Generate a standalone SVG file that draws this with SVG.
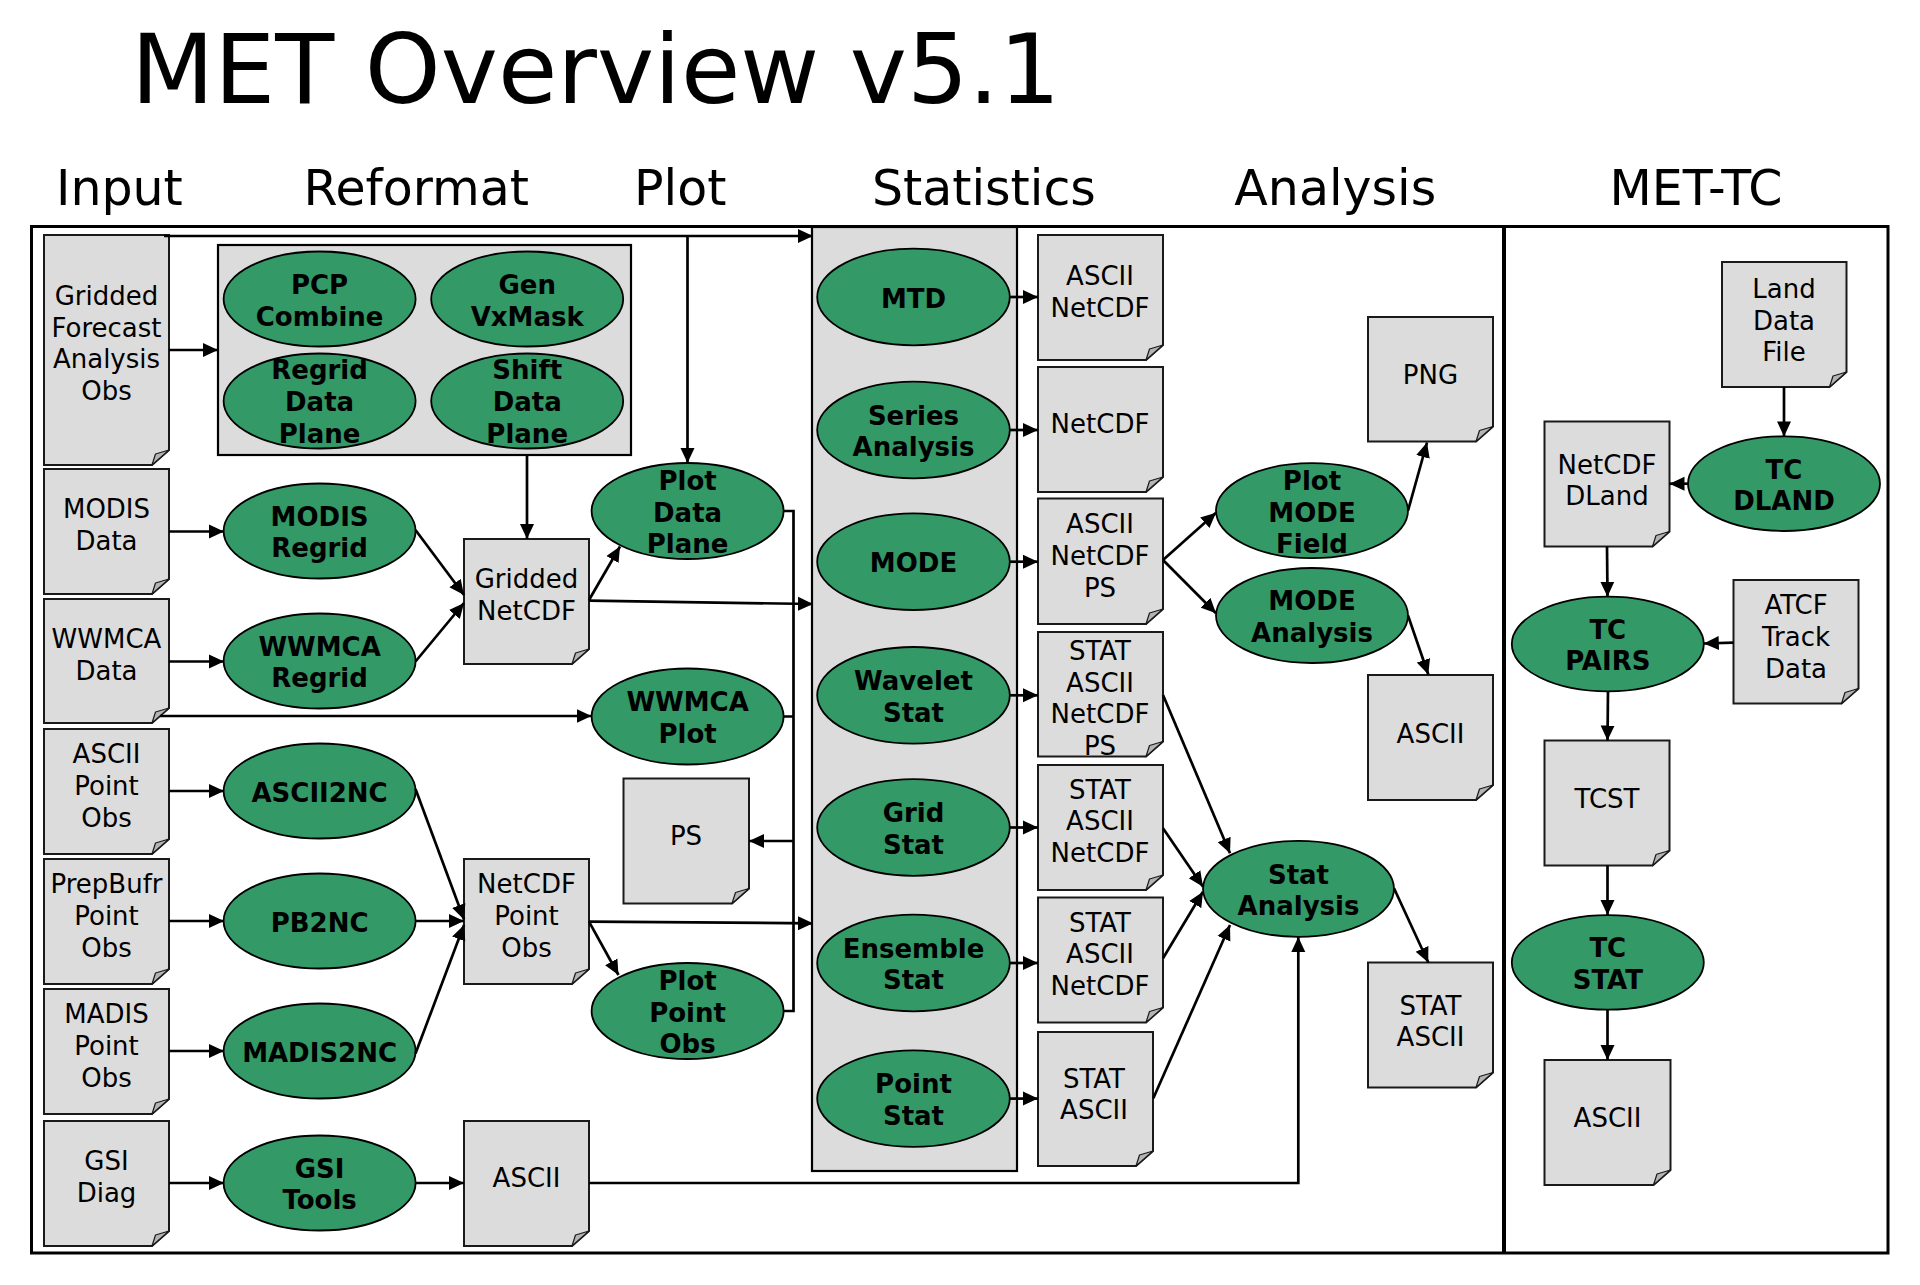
<svg xmlns="http://www.w3.org/2000/svg" width="1920" height="1285" viewBox="0 0 1920 1285">
<defs>
<style>
.doc{fill:#dcdcdc;stroke:#1a1a1a;stroke-width:2}
.fold{fill:#b4b4b4;stroke:#1a1a1a;stroke-width:1.2;stroke-linejoin:round}
.tool{fill:#339966;stroke:#000;stroke-width:1.8}
.box{fill:#dcdcdc;stroke:#000;stroke-width:2.2}
text{font-family:"DejaVu Sans",Verdana,sans-serif;fill:#000}
.t{font-size:26px;text-anchor:middle}
.b{font-weight:bold}
.hdr{font-size:49px;text-anchor:middle}
.c{stroke:#000;stroke-width:2.7;fill:none;marker-end:url(#ah)}
.n{stroke:#000;stroke-width:2.7;fill:none}
</style>
<marker id="ah" markerUnits="userSpaceOnUse" markerWidth="16" markerHeight="15" refX="15" refY="7.5" orient="auto"><path d="M0,0.5 L15,7.5 L0,14.5 Z" fill="#000"/></marker>
</defs>
<rect width="1920" height="1285" fill="#fff"/>
<text x="131" y="103" font-size="96.5">MET Overview v5.1</text>
<g id="headers">
<text class="hdr" x="119.4" y="205">Input</text>
<text class="hdr" x="416.3" y="205">Reformat</text>
<text class="hdr" x="680.2" y="205">Plot</text>
<text class="hdr" x="983.9" y="205">Statistics</text>
<text class="hdr" x="1335.3" y="205">Analysis</text>
<text class="hdr" x="1696" y="205">MET-TC</text>
</g>
<g id="frame">
<rect x="31.5" y="226.5" width="1856.5" height="1026.5" fill="none" stroke="#000" stroke-width="3"/>
<line x1="1504" y1="226.5" x2="1504" y2="1253" stroke="#000" stroke-width="4"/>
</g>
<g id="reformat-box"><rect class="box" x="218" y="245" width="413" height="210"/></g>
<g id="statistics-box"><rect class="box" x="812" y="227" width="205" height="944"/></g>

<g id="in-gridded"><path class="doc" d="M44 235H169V450L152 465H44Z"/><path class="fold" d="M152 465L155.5 454L169 450Z"/>
<text class="t" x="106.5" y="305">Gridded</text><text class="t" x="106.5" y="336.7">Forecast</text><text class="t" x="106.5" y="368.3">Analysis</text><text class="t" x="106.5" y="400">Obs</text></g>
<g id="in-modis"><path class="doc" d="M44 469H169V579L152 594H44Z"/><path class="fold" d="M152 594L155.5 583L169 579Z"/>
<text class="t" x="106.5" y="517.7">MODIS</text><text class="t" x="106.5" y="549.5">Data</text></g>
<g id="in-wwmca"><path class="doc" d="M44 599H169V708L152 723H44Z"/><path class="fold" d="M152 723L155.5 712L169 708Z"/>
<text class="t" x="106.5" y="647.7">WWMCA</text><text class="t" x="106.5" y="679.5">Data</text></g>
<g id="in-ascii"><path class="doc" d="M44 729H169V839L152 854H44Z"/><path class="fold" d="M152 854L155.5 843L169 839Z"/>
<text class="t" x="106.5" y="762.5">ASCII</text><text class="t" x="106.5" y="794.5">Point</text><text class="t" x="106.5" y="826.5">Obs</text></g>
<g id="in-prepbufr"><path class="doc" d="M44 859H169V969L152 984H44Z"/><path class="fold" d="M152 984L155.5 973L169 969Z"/>
<text class="t" x="106.5" y="893">PrepBufr</text><text class="t" x="106.5" y="925">Point</text><text class="t" x="106.5" y="957">Obs</text></g>
<g id="in-madis"><path class="doc" d="M44 989H169V1099L152 1114H44Z"/><path class="fold" d="M152 1114L155.5 1103L169 1099Z"/>
<text class="t" x="106.5" y="1022.5">MADIS</text><text class="t" x="106.5" y="1054.5">Point</text><text class="t" x="106.5" y="1086.5">Obs</text></g>
<g id="in-gsi"><path class="doc" d="M44 1121H169V1231L152 1246H44Z"/><path class="fold" d="M152 1246L155.5 1235L169 1231Z"/>
<text class="t" x="106.5" y="1169.5">GSI</text><text class="t" x="106.5" y="1201.5">Diag</text></g>

<g id="pcp-combine"><ellipse class="tool" cx="319.6" cy="299" rx="96" ry="47.5"/><text class="t b" x="319.6" y="294">PCP</text><text class="t b" x="319.6" y="325.7">Combine</text></g>
<g id="gen-vxmask"><ellipse class="tool" cx="527.2" cy="299" rx="96" ry="47.5"/><text class="t b" x="527.2" y="294">Gen</text><text class="t b" x="527.2" y="325.7">VxMask</text></g>
<g id="regrid-data-plane"><ellipse class="tool" cx="319.6" cy="401" rx="96" ry="47.5"/><text class="t b" x="319.6" y="379.3">Regrid</text><text class="t b" x="319.6" y="411">Data</text><text class="t b" x="319.6" y="442.7">Plane</text></g>
<g id="shift-data-plane"><ellipse class="tool" cx="527.2" cy="401" rx="96" ry="47.5"/><text class="t b" x="527.2" y="379.3">Shift</text><text class="t b" x="527.2" y="411">Data</text><text class="t b" x="527.2" y="442.7">Plane</text></g>
<g id="modis-regrid"><ellipse class="tool" cx="319.6" cy="531" rx="96" ry="47.5"/><text class="t b" x="319.6" y="525.5">MODIS</text><text class="t b" x="319.6" y="557.2">Regrid</text></g>
<g id="wwmca-regrid"><ellipse class="tool" cx="319.6" cy="661" rx="96" ry="47.5"/><text class="t b" x="319.6" y="655.5">WWMCA</text><text class="t b" x="319.6" y="687.2">Regrid</text></g>
<g id="ascii2nc"><ellipse class="tool" cx="319.6" cy="791" rx="96" ry="47.5"/><text class="t b" x="319.6" y="801.5">ASCII2NC</text></g>
<g id="pb2nc"><ellipse class="tool" cx="319.6" cy="921" rx="96" ry="47.5"/><text class="t b" x="319.6" y="931.5">PB2NC</text></g>
<g id="madis2nc"><ellipse class="tool" cx="319.6" cy="1051" rx="96" ry="47.5"/><text class="t b" x="319.6" y="1061.5">MADIS2NC</text></g>
<g id="gsi-tools"><ellipse class="tool" cx="319.6" cy="1183" rx="96" ry="47.5"/><text class="t b" x="319.6" y="1177.5">GSI</text><text class="t b" x="319.6" y="1209.2">Tools</text></g>

<g id="gridded-netcdf"><path class="doc" d="M464 539H589V649L572 664H464Z"/><path class="fold" d="M572 664L575.5 653L589 649Z"/>
<text class="t" x="526.5" y="588.3">Gridded</text><text class="t" x="526.5" y="620">NetCDF</text></g>
<g id="netcdf-point-obs"><path class="doc" d="M464 859H589V969L572 984H464Z"/><path class="fold" d="M572 984L575.5 973L589 969Z"/>
<text class="t" x="526.5" y="893">NetCDF</text><text class="t" x="526.5" y="925">Point</text><text class="t" x="526.5" y="957">Obs</text></g>
<g id="gsi-ascii"><path class="doc" d="M464 1121H589V1231L572 1246H464Z"/><path class="fold" d="M572 1246L575.5 1235L589 1231Z"/>
<text class="t" x="526.5" y="1186.5">ASCII</text></g>

<g id="plot-data-plane"><ellipse class="tool" cx="687.6" cy="511" rx="96" ry="48"/><text class="t b" x="687.6" y="489.8">Plot</text><text class="t b" x="687.6" y="521.5">Data</text><text class="t b" x="687.6" y="553.2">Plane</text></g>
<g id="wwmca-plot"><ellipse class="tool" cx="687.6" cy="716.5" rx="96" ry="48"/><text class="t b" x="687.6" y="711">WWMCA</text><text class="t b" x="687.6" y="742.7">Plot</text></g>
<g id="ps"><path class="doc" d="M623.5 778.5H749V888.5L732 903.5H623.5Z"/><path class="fold" d="M732 903.5L735.5 892.5L749 888.5Z"/>
<text class="t" x="686" y="845">PS</text></g>
<g id="plot-point-obs"><ellipse class="tool" cx="687.6" cy="1011" rx="96" ry="48"/><text class="t b" x="687.6" y="989.8">Plot</text><text class="t b" x="687.6" y="1021.5">Point</text><text class="t b" x="687.6" y="1053.2">Obs</text></g>

<g id="mtd"><ellipse class="tool" cx="913.5" cy="297" rx="96.3" ry="48.3"/><text class="t b" x="913.5" y="307.5">MTD</text></g>
<g id="series-analysis"><ellipse class="tool" cx="913.5" cy="430" rx="96.3" ry="48.3"/><text class="t b" x="913.5" y="424.5">Series</text><text class="t b" x="913.5" y="456.2">Analysis</text></g>
<g id="mode"><ellipse class="tool" cx="913.5" cy="561.7" rx="96.3" ry="48.3"/><text class="t b" x="913.5" y="572.2">MODE</text></g>
<g id="wavelet-stat"><ellipse class="tool" cx="913.5" cy="695.3" rx="96.3" ry="48.3"/><text class="t b" x="913.5" y="690">Wavelet</text><text class="t b" x="913.5" y="721.7">Stat</text></g>
<g id="grid-stat"><ellipse class="tool" cx="913.5" cy="827.5" rx="96.3" ry="48.3"/><text class="t b" x="913.5" y="822">Grid</text><text class="t b" x="913.5" y="853.7">Stat</text></g>
<g id="ensemble-stat"><ellipse class="tool" cx="913.5" cy="963" rx="96.3" ry="48.3"/><text class="t b" x="913.5" y="957.5">Ensemble</text><text class="t b" x="913.5" y="989.2">Stat</text></g>
<g id="point-stat"><ellipse class="tool" cx="913.5" cy="1098.6" rx="96.3" ry="48.3"/><text class="t b" x="913.5" y="1093">Point</text><text class="t b" x="913.5" y="1124.7">Stat</text></g>

<g id="mtd-out"><path class="doc" d="M1038 235H1163V345L1146 360H1038Z"/><path class="fold" d="M1146 360L1149.5 349L1163 345Z"/>
<text class="t" x="1100" y="285">ASCII</text><text class="t" x="1100" y="316.7">NetCDF</text></g>
<g id="series-out"><path class="doc" d="M1038 367H1163V477L1146 492H1038Z"/><path class="fold" d="M1146 492L1149.5 481L1163 477Z"/>
<text class="t" x="1100" y="432.7">NetCDF</text></g>
<g id="mode-out"><path class="doc" d="M1038 498.5H1163V609L1146 624H1038Z"/><path class="fold" d="M1146 624L1149.5 613L1163 609Z"/>
<text class="t" x="1100" y="533.3">ASCII</text><text class="t" x="1100" y="565">NetCDF</text><text class="t" x="1100" y="596.5">PS</text></g>
<g id="wavelet-out"><path class="doc" d="M1038 632H1163V741.5L1146 756.5H1038Z"/><path class="fold" d="M1146 756.5L1149.5 745.5L1163 741.5Z"/>
<text class="t" x="1100" y="660">STAT</text><text class="t" x="1100" y="691.5">ASCII</text><text class="t" x="1100" y="723">NetCDF</text><text class="t" x="1100" y="754.7">PS</text></g>
<g id="grid-out"><path class="doc" d="M1038 765H1163V875L1146 890H1038Z"/><path class="fold" d="M1146 890L1149.5 879L1163 875Z"/>
<text class="t" x="1100" y="798.5">STAT</text><text class="t" x="1100" y="830.2">ASCII</text><text class="t" x="1100" y="862">NetCDF</text></g>
<g id="ensemble-out"><path class="doc" d="M1038 897.5H1163V1007.5L1146 1022.5H1038Z"/><path class="fold" d="M1146 1022.5L1149.5 1011.5L1163 1007.5Z"/>
<text class="t" x="1100" y="931.5">STAT</text><text class="t" x="1100" y="963.2">ASCII</text><text class="t" x="1100" y="995">NetCDF</text></g>
<g id="point-out"><path class="doc" d="M1038 1032H1153V1151L1136 1166H1038Z"/><path class="fold" d="M1136 1166L1139.5 1155L1153 1151Z"/>
<text class="t" x="1094" y="1087.5">STAT</text><text class="t" x="1094" y="1119.2">ASCII</text></g>

<g id="plot-mode-field"><ellipse class="tool" cx="1312" cy="510.7" rx="96" ry="47.5"/><text class="t b" x="1312" y="490">Plot</text><text class="t b" x="1312" y="521.7">MODE</text><text class="t b" x="1312" y="553.4">Field</text></g>
<g id="mode-analysis"><ellipse class="tool" cx="1312" cy="615.5" rx="96" ry="47.5"/><text class="t b" x="1312" y="610">MODE</text><text class="t b" x="1312" y="641.7">Analysis</text></g>
<g id="stat-analysis"><ellipse class="tool" cx="1298.5" cy="888.8" rx="95.5" ry="48"/><text class="t b" x="1298.5" y="883.5">Stat</text><text class="t b" x="1298.5" y="915.2">Analysis</text></g>
<g id="png"><path class="doc" d="M1368 317H1493V426.5L1476 441.5H1368Z"/><path class="fold" d="M1476 441.5L1479.5 430.5L1493 426.5Z"/>
<text class="t" x="1430.5" y="384.3">PNG</text></g>
<g id="mode-ascii"><path class="doc" d="M1368 675H1493V785L1476 800H1368Z"/><path class="fold" d="M1476 800L1479.5 789L1493 785Z"/>
<text class="t" x="1430.5" y="742.6">ASCII</text></g>
<g id="stat-ascii"><path class="doc" d="M1368 962.5H1493V1072.5L1476 1087.5H1368Z"/><path class="fold" d="M1476 1087.5L1479.5 1076.5L1493 1072.5Z"/>
<text class="t" x="1430.5" y="1014.5">STAT</text><text class="t" x="1430.5" y="1046.3">ASCII</text></g>

<g id="land-data-file"><path class="doc" d="M1722 262H1846.5V372L1829.5 387H1722Z"/><path class="fold" d="M1829.5 387L1833 376L1846.5 372Z"/>
<text class="t" x="1784" y="297.8">Land</text><text class="t" x="1784" y="329.5">Data</text><text class="t" x="1784" y="361">File</text></g>
<g id="tc-dland"><ellipse class="tool" cx="1784" cy="483.7" rx="96" ry="47.3"/><text class="t b" x="1784" y="478.5">TC</text><text class="t b" x="1784" y="510.2">DLAND</text></g>
<g id="netcdf-dland"><path class="doc" d="M1544.5 421.5H1669.5V531.5L1652.5 546.5H1544.5Z"/><path class="fold" d="M1652.5 546.5L1656 535.5L1669.5 531.5Z"/>
<text class="t" x="1607" y="473.5">NetCDF</text><text class="t" x="1607" y="505.3">DLand</text></g>
<g id="tc-pairs"><ellipse class="tool" cx="1607.8" cy="644" rx="96" ry="47.3"/><text class="t b" x="1607.8" y="638.7">TC</text><text class="t b" x="1607.8" y="670.4">PAIRS</text></g>
<g id="atcf-track-data"><path class="doc" d="M1733.5 580H1858.5V688.5L1841.5 703.5H1733.5Z"/><path class="fold" d="M1841.5 703.5L1845 692.5L1858.5 688.5Z"/>
<text class="t" x="1796" y="614.2">ATCF</text><text class="t" x="1796" y="646">Track</text><text class="t" x="1796" y="677.7">Data</text></g>
<g id="tcst"><path class="doc" d="M1544.5 740.5H1669.5V850.5L1652.5 865.5H1544.5Z"/><path class="fold" d="M1652.5 865.5L1656 854.5L1669.5 850.5Z"/>
<text class="t" x="1607" y="808.2">TCST</text></g>
<g id="tc-stat"><ellipse class="tool" cx="1607.8" cy="962.4" rx="96" ry="47.3"/><text class="t b" x="1607.8" y="957">TC</text><text class="t b" x="1607.8" y="988.7">STAT</text></g>
<g id="tc-ascii"><path class="doc" d="M1544.5 1060H1670.5V1170L1653.5 1185H1544.5Z"/><path class="fold" d="M1653.5 1185L1657 1174L1670.5 1170Z"/>
<text class="t" x="1607.5" y="1127.4">ASCII</text></g>

<g id="connectors">
<path class="c" d="M169 350H218"/>
<path class="c" d="M164 236H813"/>
<path class="c" d="M687.5 236V463"/>
<path class="c" d="M527 455V539"/>
<path class="c" d="M169 531.5H224"/>
<path class="c" d="M169 661.5H224"/>
<path class="c" d="M415.5 530L464 595"/>
<path class="c" d="M415.5 661.5L464 603"/>
<path class="c" d="M589 600L620 546.5"/>
<path class="c" d="M589 600.7L813 604"/>
<path class="c" d="M160 716H591.5"/>
<path class="c" d="M169 791H224"/>
<path class="c" d="M169 921H224"/>
<path class="c" d="M169 1051H224"/>
<path class="c" d="M169 1183H224"/>
<path class="c" d="M415.5 789L464 919.5"/>
<path class="c" d="M415.5 921H464"/>
<path class="c" d="M415.5 1053.5L464 925"/>
<path class="c" d="M415.5 1183H464"/>
<path class="c" d="M589 1183H1298.3V937"/>
<path class="c" d="M589 921.7L813 923.3"/>
<path class="c" d="M589 921.7L618.5 975"/>
<path class="n" d="M783.6 511H793.5V1011H783.6M783.6 716.5H793.5"/>
<path class="c" d="M793.5 841H749"/>
<path class="c" d="M1009.8 297H1038"/>
<path class="c" d="M1009.8 430H1038"/>
<path class="c" d="M1009.8 561.7H1038"/>
<path class="c" d="M1009.8 695.3H1038"/>
<path class="c" d="M1009.8 827.5H1038"/>
<path class="c" d="M1009.8 963H1038"/>
<path class="c" d="M1009.8 1098.6H1038"/>
<path class="c" d="M1163 560L1216 512.7"/>
<path class="c" d="M1163 560L1216 613.3"/>
<path class="c" d="M1408 510.7L1427 442.5"/>
<path class="c" d="M1408 615.5L1428.3 674.5"/>
<path class="c" d="M1163 695L1230 853.3"/>
<path class="c" d="M1163 828.3L1203 886.7"/>
<path class="c" d="M1163 958.3L1203 891.7"/>
<path class="c" d="M1153.3 1098.3L1230 925"/>
<path class="c" d="M1394 888.3L1428.3 962.5"/>
<path class="c" d="M1784 387V436.4"/>
<path class="c" d="M1688 483.7H1669.5"/>
<path class="c" d="M1607 546.5L1607.5 596.7"/>
<path class="c" d="M1733.5 642.6L1703.8 643.5"/>
<path class="c" d="M1608 691.3L1607.5 740.5"/>
<path class="c" d="M1607.5 865.5V915"/>
<path class="c" d="M1607.5 1009.7V1060"/>
</g>
</svg>
